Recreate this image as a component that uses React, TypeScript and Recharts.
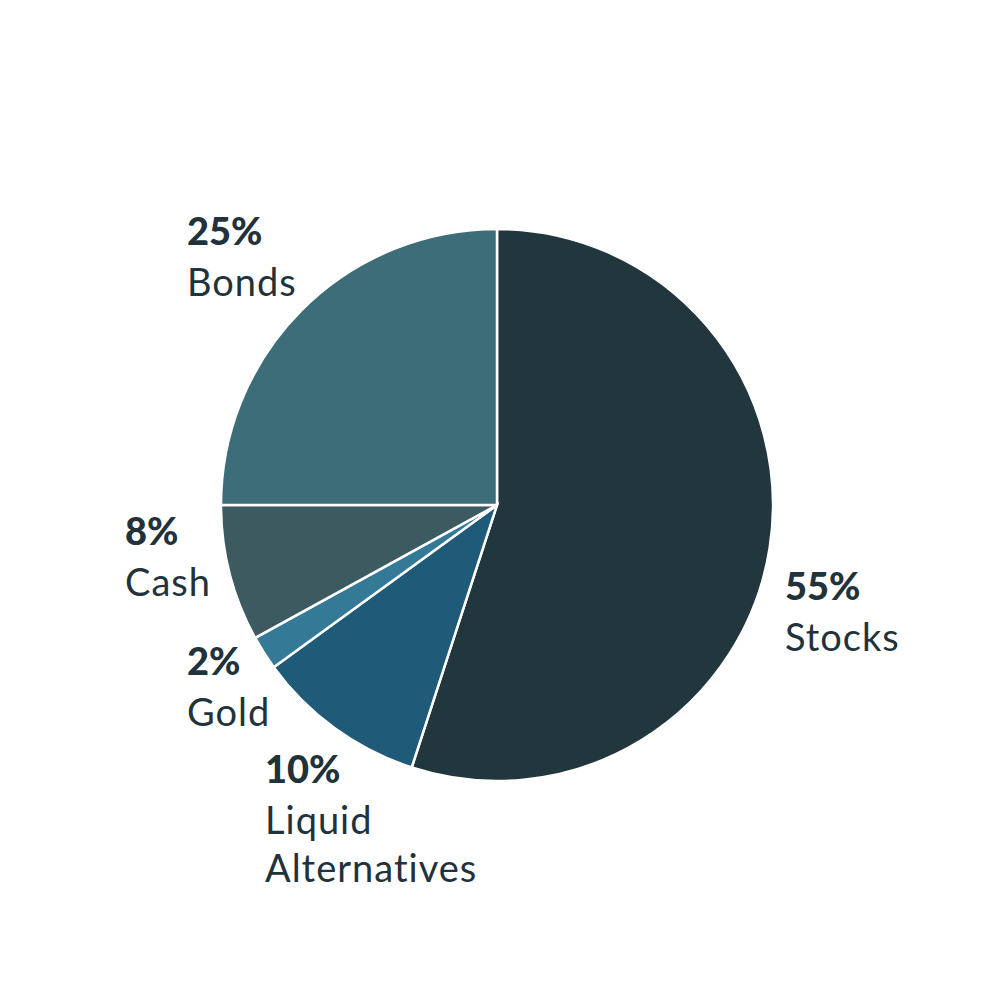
import React from "react";
import { PieChart, Pie, Cell } from "recharts";

const names = ["Stocks", "Liquid Alternatives", "Gold", "Cash", "Bonds"];
const values = [55, 10, 2, 8, 25];
const colors = ["#22363d", "#1f5a78", "#347a96", "#3d5a60", "#3e6d7a"];
const nameLines = [["Stocks"], ["Liquid", "Alternatives"], ["Gold"], ["Cash"], ["Bonds"]];
const labelOffsets = [
  [288, 95],
  [-232, 278],
  [-310, 170],
  [-372, 40],
  [-310, -260],
];

const data = names.map((n, i) => ({ name: n, value: values[i] }));

const renderLabel = (props: any) => {
  const { cx, cy, index } = props;
  const [dx, dy] = labelOffsets[index];
  const x = cx + dx;
  const y = cy + dy;
  return (
    <g>
      <text x={x} y={y} fill="#22323a" fontFamily="Lato" fontWeight={900} fontSize={38}>
        {values[index]}%
      </text>
      {nameLines[index].map((l, k) => (
        <text key={k} x={x} y={y + 51 + k * 48} fill="#22323a" fontFamily="Lato" fontWeight={400} fontSize={38} letterSpacing={1}>
          {l}
        </text>
      ))}
    </g>
  );
};

export default function App() {
  return (
    <div style={{ margin: -8, background: "#fff", width: 1000, height: 1000 }}>
      <PieChart width={1000} height={1000}>
        <Pie
          data={data}
          dataKey="value"
          cx={492}
          cy={500}
          outerRadius={276}
          startAngle={90}
          endAngle={-270}
          stroke="#ffffff"
          strokeWidth={2.5}
          label={renderLabel}
          labelLine={false}
          isAnimationActive={false}
        >
          {data.map((d, i) => (
            <Cell key={d.name} fill={colors[i]} />
          ))}
        </Pie>
      </PieChart>
    </div>
  );
}
